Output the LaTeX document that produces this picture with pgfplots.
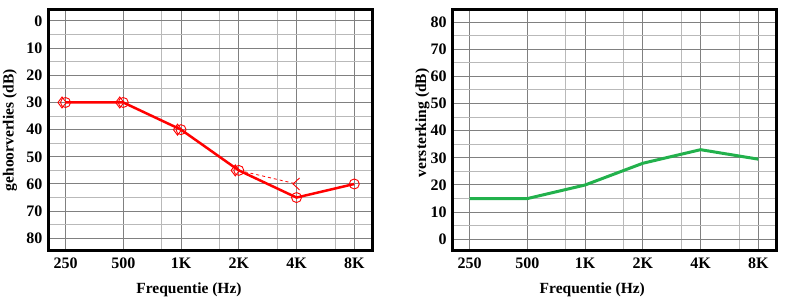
\documentclass[border=0pt]{standalone}
\usepackage{fontspec}
\setmainfont{Liberation Serif}
\usepackage{pgfplots}
\pgfplotsset{compat=1.18}
\definecolor{majgrid}{RGB}{128,128,128}
\definecolor{mingrid}{RGB}{185,185,185}
\definecolor{audred}{RGB}{255,0,0}
\definecolor{audgreen}{RGB}{34,177,76}
\pgfdeclareplotmark{ltmark}{%
  \pgfpathmoveto{\pgfqpoint{3pt}{6pt}}%
  \pgfpathlineto{\pgfqpoint{-3.5pt}{0pt}}%
  \pgfpathlineto{\pgfqpoint{3pt}{-6pt}}%
  \pgfusepathqstroke}
\pgfplotsset{
  audio/.style={
    scale only axis,
    height=241pt,
    anchor=south west,
    xtick={0,1,2,3,4,5},
    xticklabels={250,500,1K,2K,4K,8K},
    minor xtick={1.667,2.667,3.667,4.667},
    ytick={0,10,...,80},
    minor ytick={5,15,...,75},
    grid=both,
    major grid style={draw=majgrid, line width=1pt},
    minor grid style={draw=mingrid, line width=1pt},
    major tick length=0pt,
    minor tick length=0pt,
    axis line style={line width=3pt, black},
    /pgf/number format/assume math mode=true,
    ticklabel style={font=\fontsize{16}{18}\selectfont\bfseries},
    label style={font=\fontsize{15.5}{18}\selectfont\bfseries},
    xticklabel style={anchor=base, inner sep=0pt, yshift=-17.5pt},
    yticklabel style={anchor=east, inner sep=0pt, xshift=-5.5pt},
    xlabel={Frequentie (Hz)},
  }
}
\begin{document}
\begin{tikzpicture}
\path[use as bounding box] (0,0) rectangle (788pt,304pt);
% left audiogram
\begin{axis}[audio,
  at={(48.2pt,53.2pt)},
  width=324pt,
  xmin=-0.3, xmax=5.31,
  ymin=-4.12, ymax=84.6,
  y dir=reverse,
  ylabel={gehoorverlies (dB)},
  xlabel style={at={(axis description cs:0.4346,0)}, anchor=base, yshift=-42.5pt},
  ylabel style={at={(axis description cs:-0.118,0.5)}, anchor=center, rotate=0},
]
\addplot[audred, line width=2.5pt, mark=none] coordinates {
  (0,30) (1,30) (2,40) (3,55) (4,65) (5,60)};
\addplot[audred, line width=0.8pt, dashed, mark=none] coordinates {
  (3,55) (4,60)};
\addplot[audred, only marks, mark=o, mark size=5pt,
  mark options={solid, draw=audred, line width=0.9pt}] coordinates {
  (0,30) (1,30) (2,40) (3,55) (4,65) (5,60)};
\addplot[audred, only marks, mark=diamond, mark size=5.5pt,
  mark options={solid, draw=audred, line width=0.9pt, xshift=-3.5pt}] coordinates {
  (0,30) (1,30) (2,40) (3,55)};
\addplot[audred, only marks, mark=ltmark,
  mark options={solid, draw=audred, line width=0.9pt}] coordinates {
  (4,60)};
\end{axis}
% right gain chart
\begin{axis}[audio,
  at={(452.2pt,53.2pt)},
  width=324.3pt,
  xmin=-0.303, xmax=5.315,
  ymin=-4.23, ymax=84.5,
  ylabel={versterking (dB)},
  xlabel style={at={(axis description cs:0.432,0)}, anchor=base, yshift=-42.5pt},
  ylabel style={at={(axis description cs:-0.092,0.53)}, anchor=center, rotate=0},
]
\addplot[audgreen, line width=3pt, mark=none] coordinates {
  (0,15) (1,15) (2,20) (3,28) (4,33) (5,29.5)};
\end{axis}
\end{tikzpicture}
\end{document}
